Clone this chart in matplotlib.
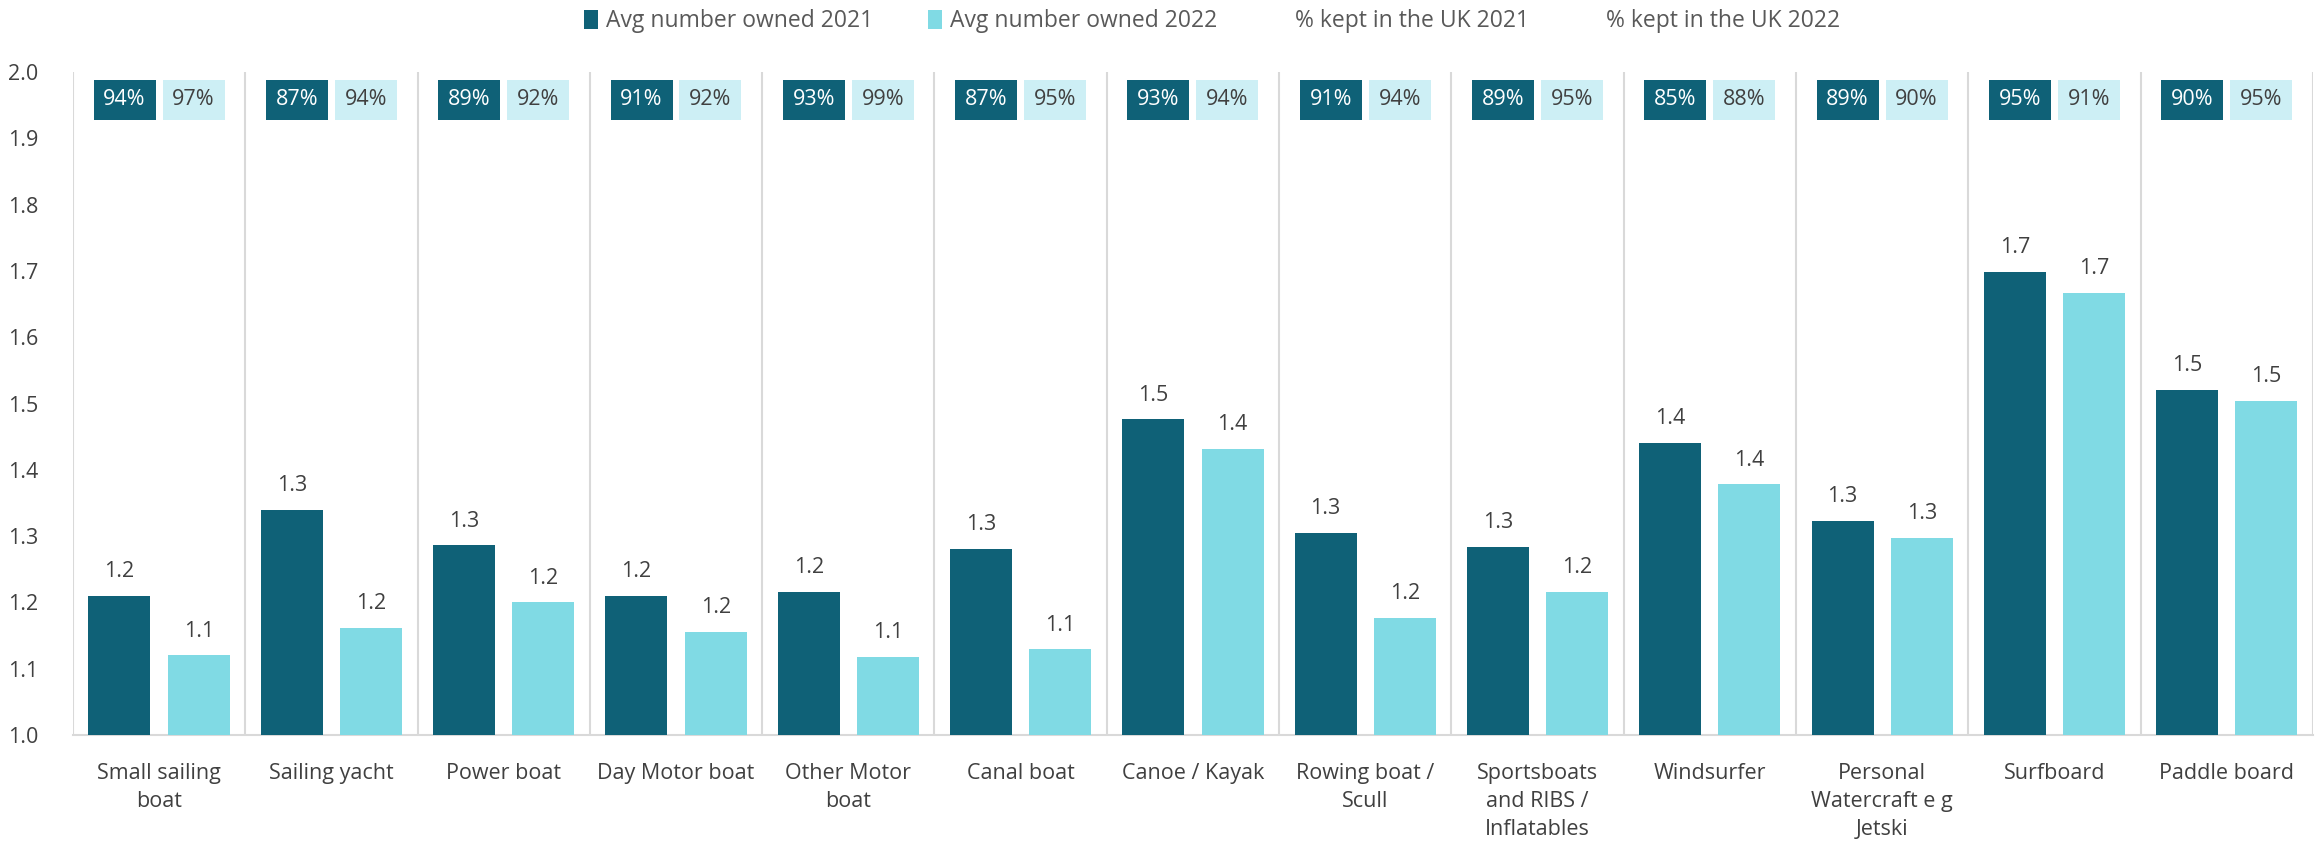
import matplotlib
matplotlib.use("Agg")
import matplotlib.pyplot as plt
from matplotlib.patches import Patch
import numpy as np

categories = ["Small sailing\nboat", "Sailing yacht", "Power boat", "Day Motor boat",
              "Other Motor\nboat", "Canal boat", "Canoe / Kayak", "Rowing boat /\nScull",
              "Sportsboats\nand RIBS /\nInflatables", "Windsurfer",
              "Personal\nWatercraft e g\nJetski", "Surfboard", "Paddle board"]
avg_2021 = [1.210, 1.340, 1.286, 1.210, 1.216, 1.280, 1.476, 1.305, 1.283, 1.441, 1.323, 1.698, 1.520]
avg_2022 = [1.120, 1.162, 1.200, 1.156, 1.118, 1.129, 1.432, 1.176, 1.216, 1.378, 1.297, 1.667, 1.504]
kept_2021 = [94, 87, 89, 91, 93, 87, 93, 91, 89, 85, 89, 95, 90]
kept_2022 = [97, 94, 92, 92, 99, 95, 94, 94, 95, 88, 90, 91, 95]
y_ticks = [1.0, 1.1, 1.2, 1.3, 1.4, 1.5, 1.6, 1.7, 1.8, 1.9, 2.0]

DARK = "#0F6177"
LIGHT = "#80DAE4"
LIGHT_BOX = "#CDEFF5"
TXT = "#404040"
LEG_TXT = "#595959"
GRID = "#D9D9D9"

plt.rcParams['font.family'] = ['Open Sans', 'DejaVu Sans']
FS = 15.5
LFS = 16.5

fig = plt.figure(figsize=(23.15, 8.47), dpi=100)
ax = fig.add_axes([0.0315, 0.1322, 0.9676, 0.7828])

n = len(categories)
x = np.arange(n)
bw = 0.36
off = 0.23

ax.bar(x - off, avg_2021, width=bw, bottom=0, color=DARK, zorder=3)
ax.bar(x + off, avg_2022, width=bw, bottom=0, color=LIGHT, zorder=3)

for i in range(n):
    ax.annotate(f"{avg_2021[i]:.1f}", (x[i] - off, avg_2021[i]), xytext=(0, 10),
                textcoords="offset points", ha="center", va="bottom", fontsize=FS, color=TXT)
    ax.annotate(f"{avg_2022[i]:.1f}", (x[i] + off, avg_2022[i]), xytext=(0, 10),
                textcoords="offset points", ha="center", va="bottom", fontsize=FS, color=TXT)

# percentage boxes
box_bottom = 1.928
box_h = 0.060
boff = 0.20
ax.bar(x - boff, [box_h] * n, width=bw, bottom=box_bottom, color=DARK, zorder=3)
ax.bar(x + boff, [box_h] * n, width=bw, bottom=box_bottom, color=LIGHT_BOX, zorder=3)
for i in range(n):
    ax.text(x[i] - boff, box_bottom + box_h / 2, f"{kept_2021[i]}%", ha="center", va="center",
            fontsize=FS, color="white", zorder=4)
    ax.text(x[i] + boff, box_bottom + box_h / 2, f"{kept_2022[i]}%", ha="center", va="center",
            fontsize=FS, color=TXT, zorder=4)

# separators
for b in np.arange(n + 1) - 0.5:
    ax.axvline(b, color=GRID, lw=1.5, zorder=1)

ax.set_xlim(-0.5, n - 0.5)
ax.set_ylim(1.0, 2.0)
ax.set_yticks(y_ticks)
ax.set_yticklabels([f"{v:.1f}" for v in y_ticks])
ax.set_xticks(x)
ax.set_xticklabels(categories, linespacing=1.45, va="top")
ax.tick_params(axis="y", length=0, pad=25, labelsize=FS, labelcolor=TXT)
ax.tick_params(axis="x", length=0, pad=20, labelsize=FS, labelcolor=TXT)
for s in ["top", "right", "left"]:
    ax.spines[s].set_visible(False)
ax.spines["bottom"].set_color(GRID)
ax.spines["bottom"].set_linewidth(1.5)

handles = [Patch(facecolor=DARK, edgecolor="none"),
           Patch(facecolor=LIGHT, edgecolor="none"),
           Patch(facecolor="none", edgecolor="none"),
           Patch(facecolor="none", edgecolor="none")]
labels = ["Avg number owned 2021", "Avg number owned 2022", "% kept in the UK 2021", "% kept in the UK 2022"]
fig.legend(handles, labels, loc="center", bbox_to_anchor=(0.5235, 0.975), ncol=4, frameon=False,
           fontsize=LFS, labelcolor=LEG_TXT, handlelength=0.61, handleheight=0.87, handletextpad=0.35,
           columnspacing=2.4, borderpad=0.0, borderaxespad=0.0)

fig.savefig("out.png", dpi=100, facecolor="white")
